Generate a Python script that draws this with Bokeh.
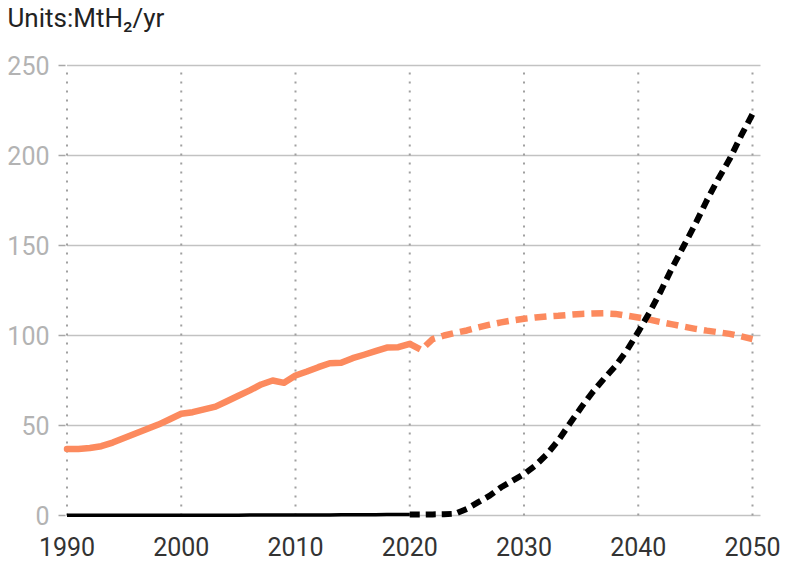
from bokeh.plotting import figure
from bokeh.models import Range1d, ColumnDataSource
from bokeh.core.properties import value
from bokeh.embed import file_html
from bokeh.resources import INLINE

years_hist = list(range(1990, 2021))
orange_hist = [37, 37, 37.5, 38.5, 40.5, 43, 45.5, 48, 50.5, 53.5,
               56.5, 57.4, 59, 60.5, 63.5, 66.5, 69.5, 72.8, 75, 73.7,
               77.8, 80, 82.4, 84.6, 84.8, 87.4, 89.3, 91.3, 93.3, 93.5, 95.4]
black_hist = [0.2, 0.2, 0.2, 0.2, 0.2, 0.2, 0.2, 0.2, 0.2, 0.2,
              0.2, 0.2, 0.2, 0.2, 0.2, 0.2, 0.3, 0.3, 0.3, 0.3,
              0.3, 0.3, 0.3, 0.3, 0.4, 0.4, 0.4, 0.4, 0.5, 0.5, 0.5]

years_proj = list(range(2020, 2051))
orange_proj = [95.4, 92, 98, 100, 101.5, 102.8, 104.5, 106, 107.3, 108.4,
               109.3, 110, 110.6, 111, 111.5, 112, 112.2, 112.3, 112, 111,
               110, 108.8, 107.4, 106.2, 104.9, 103.7, 102.7, 101.8, 100.9, 99.5, 98]
black_proj = [0.5, 0.5, 0.6, 0.7, 1.0, 3.7, 7.4, 11, 15.7, 19.4,
              23, 27.8, 34, 41.7, 51, 60, 68.5, 76, 83, 91.7,
              102, 113, 125, 138, 150, 162, 175, 187, 198, 211, 223]

x_ticks = [1990, 2000, 2010, 2020, 2030, 2040, 2050]
y_ticks = [0, 50, 100, 150, 200, 250]
title_text = "Units:MtH\u2082/yr"

ORANGE = "#fc8a5e"
FONT = "Roboto"

# ---- layout (canvas pixels, origin top-left of the figure) ----
W, H = 800, 563
PX_PER_YEAR = 685.5 / 60.0
X_1990_PX = 66.5
PX_PER_UNIT = 1.8
Y_ZERO_PX = 515.0


def fx(px):
    return x_ticks[0] + (px - X_1990_PX) / PX_PER_YEAR


def fy(py):
    return (Y_ZERO_PX - py) / PX_PER_UNIT


p = figure(width=W, height=H,
           x_range=Range1d(fx(0), fx(W)), y_range=Range1d(fy(H), fy(0)),
           output_backend="svg", toolbar_location=None,
           min_border=0, min_border_left=0, min_border_right=0,
           min_border_top=0, min_border_bottom=0)
p.outline_line_color = None
p.background_fill_color = "white"
p.border_fill_color = "white"
p.xaxis.visible = False
p.yaxis.visible = False
p.grid.visible = False

# horizontal grid lines
grid_x0 = x_ticks[0]
grid_x1 = fx(760)
p.segment(x0=[grid_x0] * len(y_ticks), x1=[grid_x1] * len(y_ticks),
          y0=y_ticks, y1=y_ticks, line_color="#c2c2c2", line_width=1.5)
# y tick marks
p.segment(x0=[fx(58)] * len(y_ticks), x1=[fx(65)] * len(y_ticks),
          y0=y_ticks, y1=y_ticks, line_color="#a8a8a8", line_width=1.5)
# dotted vertical grid lines
p.segment(x0=x_ticks, x1=x_ticks,
          y0=[y_ticks[0]] * len(x_ticks), y1=[y_ticks[-1]] * len(x_ticks),
          line_color="#a0a0a0", line_width=2, line_dash="2 7")

# tick labels
ysrc = ColumnDataSource(dict(y=y_ticks, t=[str(v) for v in y_ticks]))
p.text(x=fx(49), y="y", text="t", source=ysrc,
       text_font=value(FONT), text_font_size=value("25px"),
       text_color="#b3b3b3", text_align="right", text_baseline="middle")
xsrc = ColumnDataSource(dict(x=x_ticks, t=[str(v) for v in x_ticks]))
p.text(x="x", y=fy(546), text="t", source=xsrc,
       text_font=value(FONT), text_font_size=value("25px"),
       text_color="#333333", text_align="center", text_baseline="middle")

# title
p.text(x=[fx(7)], y=[fy(17.5)], text=[title_text],
       text_font=value(FONT), text_font_size=value("26px"),
       text_color="#222222", text_align="left", text_baseline="middle")

# data lines
p.line(years_hist, orange_hist, line_color=ORANGE, line_width=6.5,
       line_join="round", line_cap="round")
p.line(years_proj, orange_proj, line_color=ORANGE, line_width=6.5, line_dash="12 7")
p.line(years_hist, black_hist, line_color="black", line_width=3.5)
p.line(years_proj, black_proj, line_color="black", line_width=6, line_dash="10 6")

open("out.html", "w").write(file_html(p, INLINE))
